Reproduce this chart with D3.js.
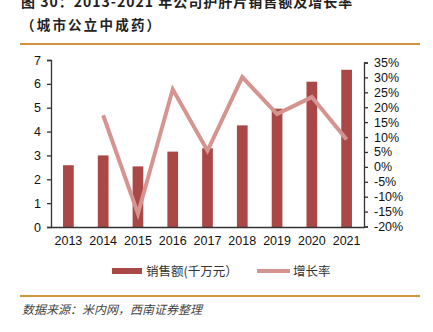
<!DOCTYPE html>
<html>
<head>
<meta charset="utf-8">
<script src="https://cdn.jsdelivr.net/npm/d3@7/dist/d3.min.js"></script>
<style>
  html, body { margin: 0; padding: 0; background: #fff; }
  svg { display: block; }
</style>
</head>
<body>
<svg id="chart" width="433" height="332"></svg>
<script>
// Annual sales (ten-million yuan) and year-on-year growth (%)
const years = ["2013", "2014", "2015", "2016", "2017", "2018", "2019", "2020", "2021"];
const sales = [2.59, 3.00, 2.54, 3.16, 3.30, 4.26, 4.96, 6.09, 6.59];
const growth = [null, 17.3, -15.7, 26.0, 5.4, 30.1, 17.7, 23.4, 9.2];
const leftTicks = [0, 1, 2, 3, 4, 5, 6, 7];
const rightTicks = [-20, -15, -10, -5, 0, 5, 10, 15, 20, 25, 30, 35];

const titleText = "图 30：2013-2021 年公司护肝片销售额及增长率";
const subtitleText = "（城市公立中成药）";
const legendBar = "销售额(千万元）";
const legendLine = "增长率";
const sourceText = "数据来源：米内网，西南证券整理";

const barColor = "#A94846";
const lineColor = "#D69490";
const ruleColor = "#CF9440";
const font = "'Liberation Sans', Arial, 'Noto Sans CJK SC', sans-serif";
const cjkFont = "'Noto Sans CJK SC', 'Liberation Sans', sans-serif";

const svg = d3.select("#chart");

const plot = { left: 51, right: 364, top: 60, bottom: 227 };

const x = d3.scaleBand().domain(years).range([plot.left, plot.right]).padding(0);
const yL = d3.scaleLinear().domain([0, 7]).range([plot.bottom, plot.top]);
const yR = d3.scaleLinear().domain([-20, 35]).range([226.5, 62.5]);

// Heading
svg.append("text")
  .attr("x", 21).attr("y", 7)
  .attr("font-family", cjkFont).attr("font-weight", "bold")
  .attr("font-size", 14).attr("fill", "#222")
  .attr("letter-spacing", 1)
  .text(titleText);
svg.append("text")
  .attr("x", 21).attr("y", 30)
  .attr("font-family", cjkFont).attr("font-weight", "bold")
  .attr("font-size", 13.5).attr("fill", "#222")
  .attr("letter-spacing", 2.2)
  .text(subtitleText);

// Rules above and below the chart body
const rules = svg.append("g").attr("class", "rules");
[44, 296].forEach(yy => {
  rules.append("rect")
    .attr("x", 20).attr("y", yy - 1).attr("width", 400).attr("height", 2)
    .attr("fill", ruleColor);
});

// Bars
const bw = 10.7;
svg.append("g").selectAll("rect").data(sales).join("rect")
  .attr("x", (d, i) => x(years[i]) + x.bandwidth() / 2 - bw / 2)
  .attr("y", d => yL(d))
  .attr("width", bw)
  .attr("height", d => yL(0) - yL(d))
  .attr("fill", barColor);

// Growth line
const line = d3.line()
  .defined(d => d.v !== null)
  .x(d => x(d.year) + x.bandwidth() / 2)
  .y(d => yR(d.v));
svg.append("path")
  .datum(years.map((year, i) => ({ year, v: growth[i] })))
  .attr("d", line)
  .attr("fill", "none")
  .attr("stroke", lineColor)
  .attr("stroke-width", 4)
  .attr("stroke-linejoin", "miter");

// Axes
const axisColor = "#333";
const gL = svg.append("g").attr("transform", `translate(${plot.left},0)`)
  .call(d3.axisLeft(yL).tickValues(leftTicks).tickSize(4).tickSizeOuter(4).tickPadding(6).tickFormat(d3.format("d")));
const gR = svg.append("g").attr("transform", `translate(${plot.right},0)`)
  .call(d3.axisRight(yR).tickValues(rightTicks).tickSize(4).tickSizeOuter(4).tickPadding(6).tickFormat(d => d + "%"));
const gX = svg.append("g").attr("transform", `translate(0,${plot.bottom})`)
  .call(d3.axisBottom(x).tickSize(0).tickPadding(9));

[gL, gR, gX].forEach(g => {
  g.selectAll("path, line").attr("stroke", axisColor).attr("stroke-width", 1.3);
  g.selectAll("text").attr("font-family", font).attr("font-size", 12.5).attr("fill", "#111");
});
gX.select(".domain").attr("stroke-width", 1.6);

// Legend
const lg = svg.append("g");
lg.append("rect").attr("x", 112).attr("y", 268).attr("width", 30).attr("height", 6).attr("fill", barColor);
lg.append("text").attr("x", 146).attr("y", 276)
  .attr("font-family", cjkFont).attr("font-size", 12.5).attr("fill", "#333").text(legendBar);
lg.append("line").attr("x1", 257).attr("x2", 290).attr("y1", 271).attr("y2", 271)
  .attr("stroke", lineColor).attr("stroke-width", 4);
lg.append("text").attr("x", 293).attr("y", 276)
  .attr("font-family", cjkFont).attr("font-size", 12.5).attr("fill", "#333").text(legendLine);

// Footer
svg.append("text")
  .attr("x", 22).attr("y", 314)
  .attr("font-family", cjkFont).attr("font-style", "italic")
  .attr("font-size", 12).attr("fill", "#444")
  .text(sourceText);
</script>
</body>
</html>
